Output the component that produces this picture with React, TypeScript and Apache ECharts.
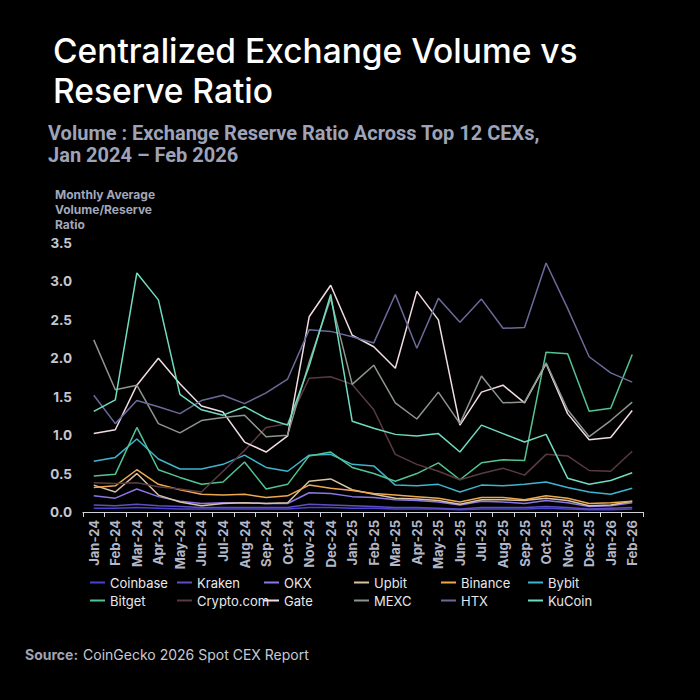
import React, { useEffect, useRef } from "react";
import * as echarts from "echarts";

const months = ["Jan-24","Feb-24","Mar-24","Apr-24","May-24","Jun-24","Jul-24","Aug-24","Sep-24","Oct-24","Nov-24","Dec-24","Jan-25","Feb-25","Mar-25","Apr-25","May-25","Jun-25","Jul-25","Aug-25","Sep-25","Oct-25","Nov-25","Dec-25","Jan-26","Feb-26"];

const coinbase = [0.05,0.05,0.06,0.05,0.04,0.04,0.04,0.04,0.04,0.04,0.06,0.06,0.05,0.05,0.04,0.04,0.04,0.03,0.04,0.04,0.04,0.05,0.04,0.03,0.03,0.04];
const kraken = [0.09,0.08,0.1,0.08,0.07,0.06,0.06,0.06,0.06,0.06,0.1,0.09,0.08,0.07,0.06,0.06,0.05,0.04,0.06,0.06,0.06,0.07,0.06,0.04,0.05,0.06];
const okx = [0.21,0.18,0.3,0.2,0.14,0.11,0.12,0.12,0.11,0.11,0.25,0.24,0.2,0.19,0.16,0.15,0.13,0.09,0.14,0.13,0.11,0.15,0.12,0.07,0.08,0.12];
const upbit = [0.35,0.26,0.5,0.22,0.13,0.08,0.11,0.12,0.11,0.12,0.4,0.43,0.29,0.23,0.18,0.17,0.15,0.1,0.16,0.16,0.15,0.18,0.15,0.08,0.09,0.14];
const binance = [0.32,0.34,0.55,0.36,0.29,0.23,0.22,0.23,0.19,0.21,0.35,0.31,0.28,0.24,0.22,0.2,0.18,0.13,0.19,0.19,0.16,0.21,0.18,0.11,0.12,0.14];
const bybit = [0.66,0.71,0.95,0.69,0.56,0.56,0.62,0.74,0.58,0.53,0.74,0.75,0.62,0.6,0.35,0.34,0.36,0.26,0.35,0.34,0.36,0.39,0.32,0.26,0.23,0.31];
const bitget = [0.47,0.49,1.1,0.55,0.45,0.36,0.39,0.65,0.3,0.36,0.73,0.78,0.58,0.5,0.4,0.5,0.64,0.42,0.64,0.68,0.67,2.08,2.06,1.31,1.35,2.05];
const cryptoCom = [0.38,0.37,0.38,0.33,0.3,0.26,0.53,0.8,1.1,1.15,1.74,1.76,1.66,1.33,0.75,0.62,0.53,0.42,0.5,0.57,0.48,0.75,0.73,0.54,0.53,0.79];
const gate = [1.02,1.07,1.65,2.0,1.67,1.38,1.3,0.91,0.78,0.99,2.54,2.95,2.3,2.15,1.87,2.87,2.5,1.13,1.56,1.65,1.42,1.93,1.28,0.94,0.97,1.32];
const mexc = [2.24,1.59,1.65,1.15,1.03,1.19,1.23,1.26,0.98,1.0,1.95,2.78,1.66,1.91,1.42,1.21,1.56,1.15,1.77,1.42,1.43,1.94,1.33,0.98,1.19,1.43];
const htx = [1.52,1.15,1.45,1.37,1.28,1.45,1.52,1.41,1.55,1.73,2.37,2.35,2.28,2.2,2.83,2.13,2.78,2.47,2.77,2.39,2.4,3.24,2.65,2.02,1.81,1.69];
const kucoin = [1.31,1.46,3.11,2.76,1.53,1.33,1.26,1.37,1.22,1.13,1.9,2.83,1.18,1.09,1.01,0.99,1.02,0.78,1.13,1.02,0.91,1.01,0.44,0.36,0.41,0.51];

const seriesNames = ["Coinbase","Kraken","OKX","Upbit","Binance","Bybit","Bitget","Crypto.com","Gate","MEXC","HTX","KuCoin"];
const seriesData = [coinbase,kraken,okx,upbit,binance,bybit,bitget,cryptoCom,gate,mexc,htx,kucoin];
const seriesColors = ["#4a42d0","#5d4fc2","#8d76e6","#d8c3a2","#eea84e","#3fb4cf","#52c494","#5a3a42","#f2dce4","#8d968c","#6c6a9a","#6fdcc0"];

const yTicks = [0, 3.5, 0.5];

export default function App() {
  const ref = useRef<HTMLDivElement>(null);
  useEffect(() => {
    if (!ref.current) return;
    const chart = echarts.init(ref.current, null, { renderer: "svg" });
    const legendCols = [85, 172, 259, 349, 436, 523];
    const legends = legendCols.map((left, c) => ({
      orient: "vertical",
      left,
      top: 571,
      itemGap: 5,
      itemWidth: 15,
      itemHeight: 2,
      icon: "rect",
      data: [seriesNames[c], seriesNames[c + 6]],
      textStyle: { color: "#e8e8ec", fontSize: 13, fontFamily: "Inter" },
    }));
    const subStyle = { color: "#9ea3b8", fontSize: 20, fontWeight: "bold", fontFamily: "Roboto", lineHeight: 20 };
    chart.setOption({
      animation: false,
      backgroundColor: "#000000",
      title: [
        {
          text: "Centralized Exchange Volume vs\nReserve Ratio",
          left: 48,
          top: 26,
          textStyle: { color: "#ffffff", fontSize: 33.5, fontWeight: 500, fontFamily: "Inter", lineHeight: 40 },
        },
        { text: "Volume : Exchange Reserve Ratio Across Top 12 CEXs,", left: 48, top: 123, padding: 0, textStyle: subStyle },
        { text: "Jan 2024 – Feb 2026", left: 48, top: 145, padding: 0, textStyle: subStyle },
        {
          text: "Monthly Average\nVolume/Reserve\nRatio",
          left: 50,
          top: 182,
          textStyle: { color: "#a3a7bb", fontSize: 12, fontWeight: "bold", fontFamily: "Inter", lineHeight: 15 },
        },
        {
          text: "{b|Source:} {n|CoinGecko 2026 Spot CEX Report}",
          left: 20,
          top: 640,
          textStyle: {
            fontWeight: "normal",
            rich: {
              b: { color: "#a0a4b4", fontSize: 14, fontWeight: "bold", fontFamily: "Inter" },
              n: { color: "#c8cad2", fontSize: 14, fontWeight: "normal", fontFamily: "Inter" },
            },
          },
        },
      ],
      legend: legends,
      grid: { left: 83, right: 57, top: 243, bottom: 188, containLabel: false },
      xAxis: {
        type: "category",
        data: months,
        boundaryGap: true,
        axisLine: { lineStyle: { color: "#d2d2da", width: 1.2 } },
        axisTick: { show: true, length: 5, lineStyle: { color: "#d2d2da" } },
        axisLabel: { rotate: 90, interval: 0, margin: 8, fontSize: 13, fontWeight: "bold", color: "#b4b8c8", fontFamily: "Inter" },
      },
      yAxis: {
        type: "value",
        min: yTicks[0],
        max: yTicks[1],
        interval: yTicks[2],
        axisLine: { show: false },
        axisTick: { show: false },
        splitLine: { show: false },
        axisLabel: { margin: 11, fontSize: 13.5, fontWeight: "bold", color: "#c4c6d0", fontFamily: "Inter", formatter: (v: number) => v.toFixed(1) },
      },
      series: seriesNames.map((name, i) => ({
        name,
        type: "line",
        data: seriesData[i],
        symbol: "none",
        color: seriesColors[i],
        lineStyle: { width: 1.5, color: seriesColors[i] },
      })),
    });
    return () => chart.dispose();
  }, []);
  return <div ref={ref} style={{ position: "fixed", left: 0, top: 0, width: 700, height: 700 }} />;
}
